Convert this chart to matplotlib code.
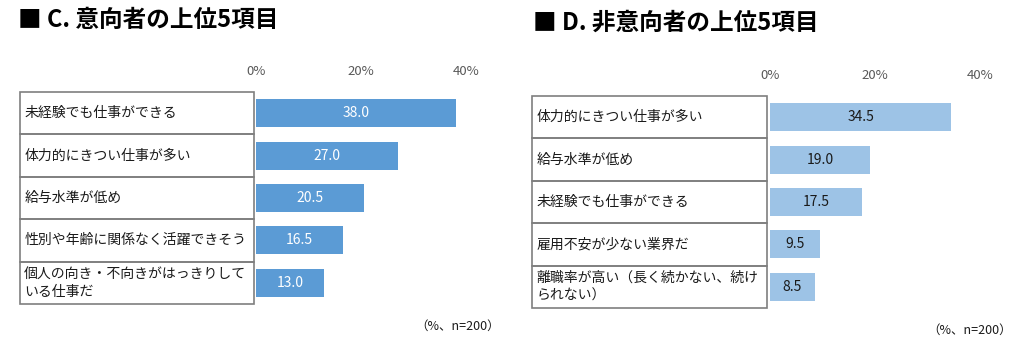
import matplotlib.pyplot as plt
from matplotlib.patches import Rectangle

plt.rcParams['font.family'] = ['Noto Sans CJK JP', 'DejaVu Sans']

# データ
labels_c = ["未経験でも仕事ができる", "体力的にきつい仕事が多い", "給与水準が低め",
            "性別や年齢に関係なく活躍できそう", "個人の向き・不向きがはっきりして\nいる仕事だ"]
values_c = [38.0, 27.0, 20.5, 16.5, 13.0]

labels_d = ["体力的にきつい仕事が多い", "給与水準が低め", "未経験でも仕事ができる",
            "雇用不安が少ない業界だ", "離職率が高い（長く続かない、続け\nられない）"]
values_d = [34.5, 19.0, 17.5, 9.5, 8.5]

ticks = [0, 20, 40]
tick_labels = ["0%", "20%", "40%"]

W, H = 1019, 352
fig = plt.figure(figsize=(W / 100, H / 100), dpi=100)


def px_axes(x0, y0, x1, y1):
    # ピクセル座標（左上原点）から axes を作る
    return fig.add_axes([x0 / W, 1 - y1 / H, (x1 - x0) / W, (y1 - y0) / H])


def panel(title, tx, ty, labels, values, lab_x0, lab_x1, top, bottom, bar_x0,
          bar_color, text_color, note_x, note_y):
    fig.text(tx / W, 1 - ty / H, title, fontsize=17, fontweight='bold',
             va='center', ha='left')

    n = len(values)
    # ラベル表
    axl = px_axes(lab_x0, top, lab_x1, bottom)
    axl.set_xlim(0, 1)
    axl.set_ylim(n, 0)
    axl.axis('off')
    for i, lab in enumerate(labels):
        axl.add_patch(Rectangle((0, i), 1, 1, fill=False, edgecolor='#7f7f7f',
                                linewidth=1.2, clip_on=False))
        axl.text(0.018, i + 0.5, lab, fontsize=10, va='center', ha='left',
                 color='#1a1a1a', linespacing=1.35)

    # 棒グラフ
    ax = px_axes(bar_x0, top, bar_x0 + 210, bottom)
    y = list(range(n))
    ax.barh([v + 0.5 for v in y], values, height=0.66, color=bar_color)
    ax.set_xlim(0, 40)
    ax.set_ylim(n, 0)
    ax.xaxis.tick_top()
    ax.set_xticks(ticks)
    ax.set_xticklabels(tick_labels, fontsize=9.5, color='#595959')
    ax.tick_params(axis='x', length=0, pad=10)
    ax.set_yticks([])
    for s in ax.spines.values():
        s.set_visible(False)
    for i, v in enumerate(values):
        ax.text(v / 2, i + 0.5, f"{v:.1f}", ha='center', va='center',
                fontsize=10, color=text_color)

    fig.text(note_x / W, 1 - note_y / H, "（%、n=200）", fontsize=9,
             ha='right', va='center', color='#1a1a1a')


panel("■ C. 意向者の上位5項目", 18, 20, labels_c, values_c, 20, 254, 92, 304, 256,
      '#5b9bd5', 'white', 500, 326)
panel("■ D. 非意向者の上位5項目", 533, 23, labels_d, values_d, 532, 767, 96, 308, 770,
      '#9dc3e6', '#1a1a1a', 1012, 330)

fig.savefig("out.png", dpi=100)
